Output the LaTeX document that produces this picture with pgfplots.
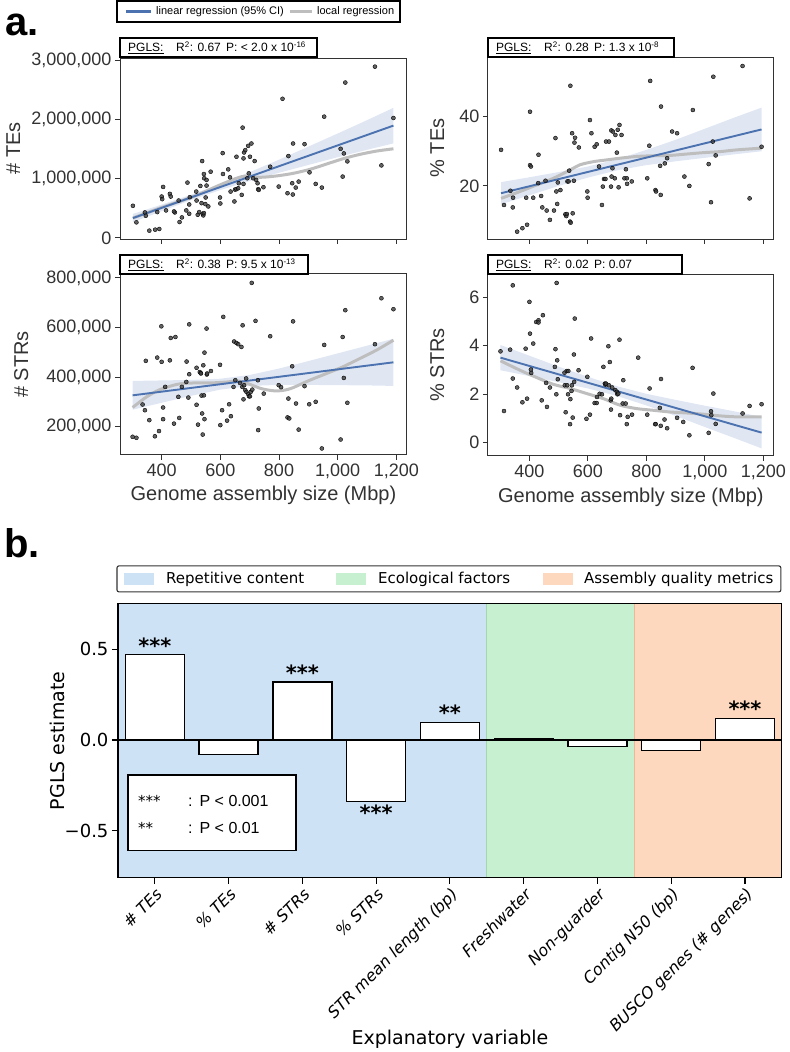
\documentclass[border=0pt]{standalone}
\usepackage{pgfplots}
\pgfplotsset{compat=1.18}
\usepgfplotslibrary{fillbetween}
\usepackage{fontspec}
\setmainfont{Liberation Sans}
\newfontfamily\dv{DejaVu Sans}
\definecolor{sbblue}{RGB}{76,114,176}
\definecolor{cifill}{RGB}{224,231,243}
\definecolor{loess}{RGB}{190,190,190}
\definecolor{ptc}{RGB}{60,60,60}
\definecolor{axgray}{RGB}{50,50,50}
\definecolor{bgblue}{RGB}{206,226,246}
\definecolor{bggreen}{RGB}{198,240,207}
\definecolor{bgorange}{RGB}{253,216,190}
\definecolor{edgegreen}{RGB}{165,215,175}
\definecolor{edgeorange}{RGB}{235,185,150}
\pgfplotsset{
  pa/.style={
    scale only axis, width=287pt, height=181pt, anchor=south west,
    xmin=258, xmax=1236, xtick={400,600,800,1000,1200},
    /pgf/number format/assume math mode=true,
    axis line style={axgray, line width=0.9pt},
    major tick style={axgray, line width=0.9pt},
    tick align=outside, tickpos=left, major tick length=5pt,
    yticklabel style={font=\fontsize{18}{20}\selectfont, text=axgray},
    xticklabel style={font=\fontsize{18}{20}\selectfont, text=axgray},
    ylabel style={font=\fontsize{20}{22}\selectfont, text=axgray, at={(axis description cs:-0.335,0.5)}, anchor=south},
    xlabel style={font=\fontsize{20}{22}\selectfont, text=axgray, at={(axis description cs:0.5,-0.155)}, anchor=north},
    clip=true,
  },
  sc/.style={only marks, mark=*, mark size=2pt, mark options={draw=none, fill=ptc, fill opacity=0.8}},
  bl/.style={sbblue, line width=1.9pt, no marks},
  gl/.style={loess, line width=3pt, no marks, smooth},
}
\begin{document}
\begin{tikzpicture}
\path (0,0) rectangle (787pt,1052pt);

% ---------- top-left: # TEs ----------
\begin{axis}[pa, at={(120pt,813pt)}, ymin=-17000, ymax=3034000,
  ytick={0,1000000,2000000,3000000}, yticklabels={0,{1,000,000},{2,000,000},{3,000,000}},
  xticklabels={}, ylabel={\# TEs}]
\addplot[name path=tlU, draw=none, forget plot] coordinates {(302,405000)(400,562000)(500,728000)(600,908000)(700,1109000)(800,1319000)(900,1540000)(1000,1761000)(1100,1986000)(1190,2194000)};
\addplot[name path=tlL, draw=none, forget plot] coordinates {(302,265000)(400,452000)(500,638000)(600,808000)(700,959000)(800,1099000)(900,1230000)(1000,1361000)(1100,1486000)(1190,1594000)};
\addplot[cifill, draw=none] fill between[of=tlU and tlL];
\addplot[sc] table {
302 542000
314 263000
343 430000
346 374000
358 123000
378 140000
392 151000
385 436000
405 860000
400 698000
402 654000
415 464000
428 743000
431 698000
445 430000
442 447000
458 631000
461 268000
469 346000
488 933000
484 464000
494 408000
494 564000
496 687000
518 782000
519 631000
523 391000
528 436000
532 877000
536 587000
538 1296000
540 402000
542 380000
544 419000
544 1078000
545 1006000
549 570000
550 682000
553 978000
553 883000
559 531000
567 1117000
599 682000
600 581000
608 1430000
609 1078000
627 1156000
633 1022000
635 782000
648 615000
650 816000
655 1369000
655 821000
661 838000
663 922000
673 726000
676 1860000
679 1341000
679 911000
681 1441000
685 1480000
692 1006000
695 1553000
697 1089000
701 1369000
706 1592000
712 1006000
717 1296000
722 978000
727 922000
729 821000
731 810000
747 855000
770 1201000
799 866000
812 2346000
829 754000
832 1380000
845 922000
847 732000
848 1592000
857 849000
867 950000
887 1581000
904 1106000
925 911000
946 849000
954 2045000
1010 1503000
1017 1034000
1021 1425000
1026 2620000
1033 1291000
1127 2888000
1149 1223000
1190 2022000
};
\addplot[gl] coordinates {(302,335000)(394,503000)(508,698000)(599,894000)(655,1006000)(689,1045000)(735,1022000)(791,1045000)(848,1089000)(905,1156000)(962,1246000)(1018,1335000)(1075,1408000)(1132,1464000)(1190,1503000)};
\addplot[bl] coordinates {(302,335000)(1190,1894000)};
\end{axis}

% ---------- top-right: % TEs ----------
\begin{axis}[pa, at={(488pt,813pt)}, width=286pt, height=182pt, ymin=4.7, ymax=57.2,
  ytick={20,40}, yticklabels={20,40}, xticklabels={}, ylabel={\% TEs},
  ylabel style={at={(axis description cs:-0.14,0.5)}, anchor=south}]
\addplot[name path=trU, draw=none, forget plot] coordinates {(303,21.1)(400,22.5)(500,24.0)(600,25.6)(700,27.7)(800,30.4)(900,33.3)(1000,36.5)(1100,39.7)(1194,42.6)};
\addplot[name path=trL, draw=none, forget plot] coordinates {(303,14.7)(400,17.3)(500,20.0)(600,22.4)(700,24.5)(800,26.0)(900,27.1)(1000,28.1)(1100,29.1)(1194,30.0)};
\addplot[cifill, draw=none] fill between[of=trU and trL];
\addplot[sc] table {
303 30.4
313 14.5
335 18.6
343 13.8
344 16.6
358 6.8
376 7.8
389 16.6
392 8.8
402 41.4
402 26.0
405 25.6
413 16.6
430 20.8
431 29.0
440 17.1
444 13.8
455 21.5
459 12.9
470 10.2
484 12.9
489 33.8
492 18.4
495 14.8
497 21.0
506 18.8
523 11.8
526 11.3
528 11.9
530 21.3
534 21.3
536 24.4
539 9.7
540 48.9
541 9.4
546 35.2
548 12.1
552 21.5
554 32.5
556 33.9
569 31.1
598 18.4
599 16.6
607 39.0
612 35.2
623 31.3
630 32.0
638 25.6
648 14.5
651 19.8
655 22.0
660 22.0
662 32.8
672 32.8
679 19.8
680 36.0
681 22.7
684 25.1
685 35.7
692 22.2
694 34.7
699 29.6
702 36.2
705 19.6
708 37.6
715 34.7
725 22.2
730 24.8
733 22.2
734 20.6
750 21.3
803 22.2
810 31.6
813 50.3
831 18.8
833 18.4
847 25.8
849 17.4
850 42.9
863 26.5
871 28.0
888 35.7
905 35.2
930 22.7
947 20.0
959 41.9
1013 26.3
1021 15.3
1027 32.8
1029 51.5
1037 28.8
1129 54.6
1153 16.4
1194 31.3
};
\addplot[gl] coordinates {(303,16.4)(368,18.4)(425,20.3)(482,22.2)(539,24.6)(573,26.1)(619,27.0)(664,27.5)(710,28.0)(767,28.5)(824,28.7)(881,28.8)(938,29.2)(995,29.6)(1052,29.9)(1109,30.4)(1194,30.9)};
\addplot[bl] coordinates {(303,17.9)(1194,36.3)};
\end{axis}

% ---------- bottom-left: # STRs ----------
\begin{axis}[pa, at={(120pt,597pt)}, ymin=87000, ymax=816000,
  ytick={200000,400000,600000,800000}, yticklabels={{200,000},{400,000},{600,000},{800,000}},
  xticklabels={400,600,800,{1,000},{1,200}},
  ylabel={\# STRs}, xlabel={Genome assembly size (Mbp)},
  ylabel style={at={(axis description cs:-0.307,0.5)}, anchor=south}]
\addplot[name path=blU, draw=none, forget plot] coordinates {(301,385000)(400,387000)(500,389000)(600,394000)(700,409000)(800,435000)(900,465000)(1000,496000)(1100,527000)(1190,555000)};
\addplot[name path=blL, draw=none, forget plot] coordinates {(301,269000)(400,297000)(500,325000)(600,350000)(700,365000)(800,369000)(900,369000)(1000,368000)(1100,367000)(1190,365000)};
\addplot[cifill, draw=none] fill between[of=blU and blL];
\addplot[sc] table {
301 160000
314 156000
335 290000
343 267000
346 466000
358 227000
377 162000
385 479000
391 183000
400 462000
399 605000
405 278000
405 231000
412 361000
428 468000
431 558000
442 213000
447 562000
457 321000
460 236000
469 361000
484 381000
485 463000
491 318000
494 613000
494 412000
519 438000
519 289000
524 209000
530 421000
533 417000
534 415000
536 326000
538 254000
540 169000
542 448000
544 327000
546 231000
546 499000
553 596000
554 411000
555 415000
568 425000
599 450000
600 207000
606 267000
610 643000
623 225000
630 291000
636 243000
645 361000
647 544000
651 388000
655 538000
661 533000
667 377000
672 522000
675 361000
676 609000
679 311000
681 368000
685 348000
688 395000
689 341000
695 332000
698 323000
701 323000
704 341000
707 780000
709 350000
720 627000
728 388000
729 187000
731 274000
748 334000
770 565000
799 368000
807 360000
829 238000
832 314000
835 234000
845 444000
848 625000
858 294000
867 189000
887 364000
903 291000
925 301000
946 113000
954 530000
1010 149000
1017 562000
1021 397000
1026 670000
1033 297000
1127 533000
1149 718000
1190 674000
};
\addplot[gl] coordinates {(301,278000)(349,321000)(394,350000)(456,372000)(513,377000)(569,377000)(626,381000)(660,385000)(694,374000)(740,354000)(785,345000)(819,348000)(848,358000)(905,388000)(962,415000)(1018,442000)(1075,475000)(1132,509000)(1190,549000)};
\addplot[bl] coordinates {(301,327000)(1190,460000)};
\end{axis}

% ---------- bottom-right: % STRs ----------
\begin{axis}[pa, at={(488pt,596pt)}, width=286pt, height=182pt, ymin=-0.55, ymax=6.95,
  ytick={0,2,4,6}, yticklabels={0,2,4,6}, xticklabels={400,600,800,{1,000},{1,200}},
  ylabel={\% STRs}, xlabel={Genome assembly size (Mbp)},
  ylabel style={at={(axis description cs:-0.14,0.5)}, anchor=south}]
\addplot[name path=brU, draw=none, forget plot] coordinates {(301,4.02)(400,3.58)(500,3.13)(600,2.71)(700,2.32)(800,2.01)(900,1.76)(1000,1.52)(1100,1.29)(1194,1.06)};
\addplot[name path=brL, draw=none, forget plot] coordinates {(301,2.98)(400,2.74)(500,2.49)(600,2.23)(700,1.92)(800,1.53)(900,1.10)(1000,0.64)(1100,0.19)(1194,-0.24)};
\addplot[cifill, draw=none] fill between[of=brU and brL];
\addplot[sc] table {
301 3.76
313 1.30
334 3.83
343 6.48
343 2.64
358 2.27
376 1.66
387 3.87
392 1.81
400 5.80
402 4.49
405 3.01
406 2.87
413 4.08
423 4.97
431 5.04
431 4.95
442 1.74
446 5.25
457 2.46
460 1.47
470 2.27
487 3.12
489 3.85
492 1.99
493 6.58
495 3.39
497 2.61
520 2.88
521 2.36
524 1.25
528 2.95
529 2.36
532 1.99
533 2.95
539 0.76
540 1.79
544 2.13
545 2.36
548 1.03
552 3.63
553 2.50
555 5.11
568 2.98
595 0.98
598 2.71
607 1.15
611 4.29
623 1.63
630 1.63
631 1.88
640 2.01
648 1.99
653 3.12
658 2.43
660 2.39
662 2.43
670 3.97
672 2.36
675 3.32
678 1.74
679 1.36
680 1.81
683 2.27
694 2.16
699 2.09
701 1.99
704 2.02
708 4.24
710 1.13
719 1.61
721 2.57
729 1.61
733 0.76
736 1.06
751 1.15
772 3.50
803 1.15
811 2.23
830 0.76
832 0.76
846 1.43
849 0.69
850 2.62
862 0.95
871 0.59
905 1.02
926 0.85
947 0.30
958 3.08
1013 0.40
1021 1.29
1022 1.13
1029 2.02
1037 0.77
1129 1.20
1153 1.51
1194 1.58
};
\addplot[gl] coordinates {(301,3.37)(368,2.98)(425,2.68)(482,2.40)(539,2.23)(596,2.02)(653,1.81)(710,1.54)(767,1.40)(824,1.33)(881,1.26)(938,1.22)(995,1.17)(1052,1.10)(1109,1.06)(1194,1.06)};
\addplot[bl] coordinates {(301,3.50)(1194,0.41)};
\end{axis}

% ---------- panel a decorations ----------
\node[font=\bfseries\fontsize{40}{40}\selectfont, anchor=center] at (22pt,1027pt) {a.};
\draw[black, line width=1.2pt, fill=white] (117pt,1030pt) rectangle (400pt,1051pt);
\draw[sbblue, line width=2.4pt] (126pt,1040.5pt) -- (151pt,1040.5pt);
\node[font=\fontsize{11}{12}\selectfont, anchor=west, inner sep=0pt] at (156pt,1040.5pt) {linear regression (95\% CI)};
\draw[loess, line width=2.4pt] (290pt,1040.5pt) -- (312pt,1040.5pt);
\node[font=\fontsize{11}{12}\selectfont, anchor=west, inner sep=0pt] at (317pt,1040.5pt) {local regression};

\newcommand{\pgls}[6]{%
  \draw[black, line width=1.3pt, fill=white] (#1pt,#2pt) rectangle (#3pt,#4pt);
  \node[font=\fontsize{12}{13}\selectfont, anchor=base west, inner sep=0pt] at (#1pt+8pt,#2pt+5.5pt) {\underline{PGLS:}};
  \node[font=\fontsize{12}{13}\selectfont, anchor=base west, inner sep=0pt] at (#1pt+56pt,#2pt+5.5pt) {#5};
  \node[font=\fontsize{12}{13}\selectfont, anchor=base west, inner sep=0pt] at (#1pt+106pt,#2pt+5.5pt) {#6};
}
\pgls{120}{995}{317}{1014}{R\textsuperscript{2}: 0.67}{P: < 2.0 x 10\textsuperscript{-16}}
\pgls{488}{995}{674}{1014}{R\textsuperscript{2}: 0.28}{P: 1.3 x 10\textsuperscript{-8}}
\pgls{120}{778}{308}{797}{R\textsuperscript{2}: 0.38}{P: 9.5 x 10\textsuperscript{-13}}
\pgls{488}{778}{682}{797}{R\textsuperscript{2}: 0.02}{P: 0.07}

% ---------- panel b ----------
\node[font=\bfseries\fontsize{40}{40}\selectfont, anchor=center] at (22pt,509pt) {b.};
\begin{axis}[at={(118pt,174pt)}, anchor=south west, scale only axis, width=664pt, height=274pt,
  xmin=-0.5, xmax=8.5, ymin=-0.76, ymax=0.75,
  axis on top,
  xtick={0,...,8},
  xticklabels={\# TEs,\% TEs,\# STRs,\% STRs,STR mean length (bp),Freshwater,Non-guarder,Contig N50 (bp),BUSCO genes (\# genes)},
  ytick={-0.5,0,0.5}, yticklabels={−0.5,0.0,0.5},
  tick align=outside, tickpos=left, major tick length=6pt,
  axis line style={black, line width=1.1pt},
  major tick style={black, line width=1.1pt},
  yticklabel style={font=\dv\fontsize{18}{20}\selectfont},
  xticklabel style={font=\dv\itshape\fontsize{16}{18}\selectfont, rotate=45, anchor=north east, inner sep=2pt},
  ylabel={PGLS estimate},
  ylabel style={font=\dv\fontsize{19}{21}\selectfont, at={(axis description cs:-0.075,0.5)}, anchor=south},
  xlabel={Explanatory variable},
  xlabel style={font=\dv\fontsize{19}{21}\selectfont, at={(axis description cs:0.5,-0.59)}, anchor=center},
]
\fill[bgblue] (axis cs:-0.5,-0.76) rectangle (axis cs:4.5,0.75);
\fill[bggreen] (axis cs:4.5,-0.76) rectangle (axis cs:6.5,0.75);
\fill[bgorange] (axis cs:6.5,-0.76) rectangle (axis cs:8.5,0.75);
\draw[edgegreen, line width=0.8pt] (axis cs:4.5,-0.76) -- (axis cs:4.5,0.75);
\draw[edgeorange, line width=0.8pt] (axis cs:6.5,-0.76) -- (axis cs:6.5,0.75);
\addplot[ybar, bar width=0.8, fill=white, draw=black, line width=1.3pt] coordinates {
(0,0.47) (1,-0.08) (2,0.32) (3,-0.34) (4,0.098) (5,0.008) (6,-0.035) (7,-0.06) (8,0.12)};
\draw[black, line width=1.4pt] (axis cs:-0.5,0) -- (axis cs:8.5,0);
\node[font=\dv\bfseries\fontsize{21}{21}\selectfont, anchor=south, inner sep=1pt] at (axis cs:0,0.47) {***};
\node[font=\dv\bfseries\fontsize{21}{21}\selectfont, anchor=south, inner sep=1pt] at (axis cs:2,0.32) {***};
\node[font=\dv\bfseries\fontsize{21}{21}\selectfont, anchor=south, inner sep=1pt] at (axis cs:4,0.098) {**};
\node[font=\dv\bfseries\fontsize{21}{21}\selectfont, anchor=south, inner sep=1pt] at (axis cs:8,0.12) {***};
\node[font=\dv\bfseries\fontsize{21}{21}\selectfont, anchor=north, inner sep=3pt] at (axis cs:3,-0.34) {***};
\end{axis}

% p-value key
\draw[black, line width=1.3pt, fill=white] (128pt,201pt) rectangle (296pt,277pt);
\node[font=\dv\fontsize{15}{15}\selectfont, anchor=base west, inner sep=0pt] at (138pt,245pt) {***};
\node[font=\fontsize{16}{16}\selectfont, anchor=base west, inner sep=0pt] at (188pt,245pt) {:\hspace{7pt}P < 0.001};
\node[font=\dv\fontsize{15}{15}\selectfont, anchor=base west, inner sep=0pt] at (138pt,218pt) {**};
\node[font=\fontsize{16}{16}\selectfont, anchor=base west, inner sep=0pt] at (188pt,218pt) {:\hspace{7pt}P < 0.01};

% legend b
\draw[black!80, line width=1.1pt, rounded corners=2pt, fill=white] (117pt,460pt) rectangle (781pt,486pt);
\fill[bgblue] (124pt,467pt) rectangle (154pt,479pt);
\node[font=\dv\fontsize{15}{15}\selectfont, anchor=west, inner sep=0pt] at (166pt,473pt) {Repetitive content};
\fill[bggreen] (336pt,467pt) rectangle (366pt,479pt);
\node[font=\dv\fontsize{15}{15}\selectfont, anchor=west, inner sep=0pt] at (378pt,473pt) {Ecological factors};
\fill[bgorange] (543pt,467pt) rectangle (573pt,479pt);
\node[font=\dv\fontsize{15}{15}\selectfont, anchor=west, inner sep=0pt] at (584pt,473pt) {Assembly quality metrics};
\end{tikzpicture}
\end{document}
